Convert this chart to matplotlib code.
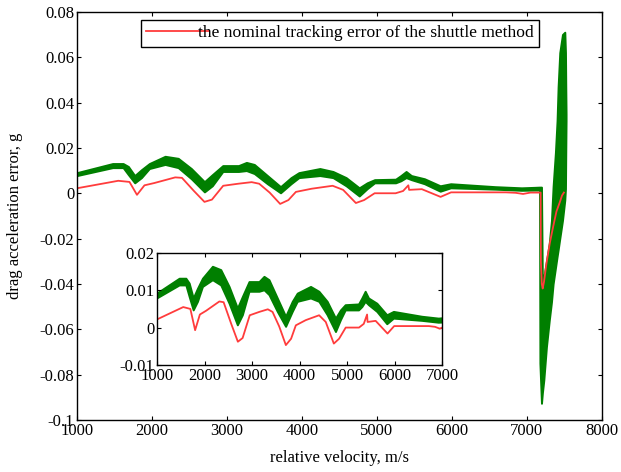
import numpy as np
import matplotlib.pyplot as plt

# nominal tracking error of the shuttle method (red)
vel_nom = [1000, 1550, 1700, 1800, 1900, 2030, 2310, 2400, 2560, 2700, 2800, 2950,
           3150, 3330, 3430, 3570, 3710, 3820, 3920, 4130, 4410, 4550, 4720, 4830,
           4970, 5250, 5350, 5420, 5430, 5600, 5850, 5990, 6720, 6850, 6950, 7050,
           7185, 7188, 7200, 7212, 7230, 7262, 7307, 7350, 7396, 7440, 7470, 7495]
err_nom = [0.0022, 0.0055, 0.0050, -0.0007, 0.0035, 0.0045, 0.0070, 0.0068, 0.0010,
           -0.0038, -0.0028, 0.0033, 0.0042, 0.0049, 0.0042, 0.0003, -0.0047, -0.0030,
           0.0006, 0.0020, 0.0033, 0.0015, -0.0043, -0.0030, 0.0000, 0.0000, 0.0010,
           0.0035, 0.0015, 0.0018, -0.0016, 0.0004, 0.0004, 0.0002, -0.0003, 0.0003,
           0.0003, -0.0300, -0.0400, -0.0420, -0.0390, -0.0310, -0.0220, -0.0150,
           -0.0080, -0.0040, -0.0010, 0.0003]

# dispersed tracking errors (green band): lower and upper envelope
vel_band = [1000, 1475, 1615, 1685, 1770, 1860, 1965, 2175, 2350, 2525, 2700, 2805,
            2945, 3155, 3260, 3365, 3540, 3715, 3855, 3960, 4240, 4415, 4590, 4765,
            4870, 4970, 5250, 5320, 5390, 5460, 5635, 5845, 5985, 6580, 6930, 7100,
            7170, 7175, 7196, 7208, 7227, 7262, 7300, 7329, 7351, 7382, 7404, 7418,
            7440, 7476, 7507, 7516, 7520, 7524]
band_lo = [0.0078, 0.0113, 0.0113, 0.0082, 0.0046, 0.0069, 0.0109, 0.0127, 0.0113,
           0.0064, 0.0006, 0.0033, 0.0096, 0.0096, 0.0100, 0.0087, 0.0042, 0.0002,
           0.0042, 0.0069, 0.0078, 0.0069, 0.0033, -0.0012, 0.0020, 0.0046, 0.0046,
           0.0055, 0.0069, 0.0060, 0.0042, 0.0009, 0.0024, 0.0018, 0.0013, 0.0014,
           0.0014, -0.0750, -0.0926, -0.0880, -0.0824, -0.0677, -0.0560, -0.0480,
           -0.0400, -0.0330, -0.0280, -0.0250, -0.0200, -0.0120, -0.0030, 0.0020,
           0.0180, 0.0320]
band_hi = [0.0091, 0.0131, 0.0131, 0.0118, 0.0078, 0.0104, 0.0131, 0.0163, 0.0154,
           0.0109, 0.0051, 0.0082, 0.0122, 0.0122, 0.0136, 0.0127, 0.0078, 0.0029,
           0.0069, 0.0091, 0.0109, 0.0096, 0.0069, 0.0024, 0.0046, 0.0060, 0.0062,
           0.0078, 0.0096, 0.0078, 0.0064, 0.0033, 0.0042, 0.0029, 0.0024, 0.0026,
           0.0027, 0.0027, 0.0027, -0.0400, -0.0370, -0.0300, -0.0220, -0.0120,
           0.0030, 0.0180, 0.0320, 0.0470, 0.0620, 0.0700, 0.0710, 0.0620, 0.0470,
           0.0350]

x_ticks = [1000, 2000, 3000, 4000, 5000, 6000, 7000, 8000]
y_ticks = [-0.1, -0.08, -0.06, -0.04, -0.02, 0, 0.02, 0.04, 0.06, 0.08]
y_labels = ['-0.1', '-0.08', '-0.06', '-0.04', '-0.02', '0', '0.02', '0.04', '0.06', '0.08']
in_x_ticks = [1000, 2000, 3000, 4000, 5000, 6000, 7000]
in_y_ticks = [-0.01, 0, 0.01, 0.02]
in_y_labels = ['-0.01', '0', '0.01', '0.02']

plt.rcParams['font.family'] = ['Liberation Serif', 'DejaVu Serif']
plt.rcParams['font.size'] = 12

green = '#007f00'
red = '#ff3c3c'


def style_axes(ax):
    ax.tick_params(direction='in', top=True, right=True, length=3, width=0.8, pad=2)
    for s in ax.spines.values():
        s.set_linewidth(1.0)


fig = plt.figure(figsize=(6.21, 4.72), dpi=100)
ax = fig.add_axes([0.124, 0.110, 0.845, 0.865])
ax.fill_between(vel_band, band_lo, band_hi, color=green, lw=1.4, edgecolor=green)
ax.plot(vel_nom, err_nom, color=red, lw=1.3,
        label='the nominal tracking error of the shuttle method')
ax.set_xlim(1000, 8000)
ax.set_ylim(-0.1, 0.08)
ax.set_xticks(x_ticks)
ax.set_yticks(y_ticks)
ax.set_yticklabels(y_labels)
ax.set_xlabel('relative velocity, m/s', labelpad=8)
ax.set_ylabel('drag acceleration error, g', labelpad=12)
style_axes(ax)
leg = ax.legend(loc='upper center', bbox_to_anchor=(0.501, 0.98), fancybox=False,
                edgecolor='black', framealpha=1, handlelength=3.6, handletextpad=-0.6,
                borderpad=0.3, borderaxespad=0, fontsize=12.6)
leg.get_frame().set_linewidth(1.0)

# inset zoom of 1000-7000 m/s
axin = fig.add_axes([0.253, 0.227, 0.459, 0.237])
axin.fill_between(vel_band, band_lo, band_hi, color=green, lw=1.4, edgecolor=green)
axin.plot(vel_nom, err_nom, color=red, lw=1.3)
axin.set_xlim(1000, 7000)
axin.set_ylim(-0.01, 0.02)
axin.set_xticks(in_x_ticks)
axin.set_yticks(in_y_ticks)
axin.set_yticklabels(in_y_labels)
style_axes(axin)

fig.savefig('out.png', dpi=100)
